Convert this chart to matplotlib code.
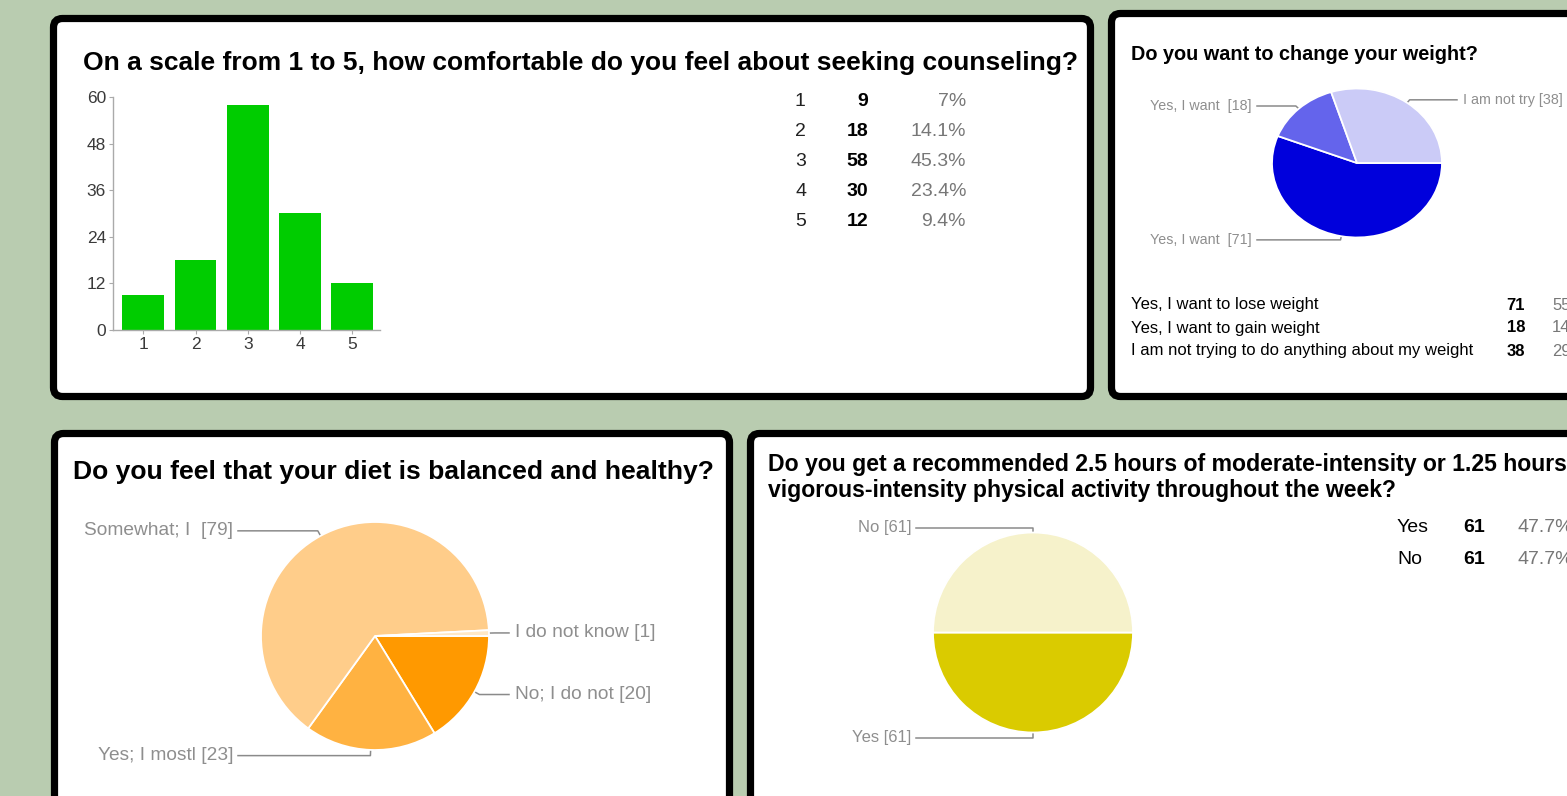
import numpy as np
import matplotlib.pyplot as plt
from matplotlib.patches import FancyBboxPatch

plt.rcParams['font.family'] = ['Liberation Sans', 'DejaVu Sans']

W, H = 1567, 796
N_RESP = 128  # people who answered the survey

# Q1 - comfort with counseling (1..5)
scale_levels = [1, 2, 3, 4, 5]
scale_counts = [9, 18, 58, 30, 12]

# Q2 - weight
weight_labels = ["Yes, I want to lose weight", "Yes, I want to gain weight",
                 "I am not trying to do anything about my weight"]
weight_stems = ["Yes, I want ", "Yes, I want ", "I am not try"]
weight_counts = [71, 18, 38]
weight_colors = ["#0000dc", "#6464ec", "#cbcbf7"]

# Q3 - diet (clockwise order of the pie)
diet_stems = ["No; I do not", "Yes; I mostl", "Somewhat; I ", "I do not know"]
diet_counts = [20, 23, 79, 1]
diet_colors = ["#ff9900", "#ffb241", "#ffcd8a", "#ffe8c6"]

# Q4 - physical activity
act_labels = ["Yes", "No"]
act_counts = [61, 61]
act_colors = ["#dacb00", "#f6f2cb"]

GREY_TXT = "#8e8e8e"
LEAD = "#8a8a8a"

fig = plt.figure(figsize=(W / 100, H / 100), dpi=100, facecolor="#b9ccb0")
bg = fig.add_axes([0, 0, 1, 1])
bg.set_xlim(0, W)
bg.set_ylim(H, 0)
bg.axis("off")
rend = fig.canvas.get_renderer()


def pct(c):
    s = f"{100 * c / N_RESP:.1f}"
    if s.endswith(".0"):
        s = s[:-2]
    return s + "%"


def panel(x0, y0, x1, y1):
    bg.add_patch(FancyBboxPatch((x0, y0), x1 - x0, y1 - y0,
                                boxstyle="round,pad=0,rounding_size=9",
                                fc="white", ec="black", lw=5.2, clip_on=False))


def px_axes(x0, y0, x1, y1):
    return fig.add_axes([x0 / W, 1 - y1 / H, (x1 - x0) / W, (y1 - y0) / H])


def fit(t, width):
    w = t.get_window_extent(rend).width
    t.set_fontsize(t.get_fontsize() * width / w)
    return t


def pie_with_leaders(vals, colors, names, cx, cy, rx, ry, left_x, right_x, fs):
    ax = px_axes(cx - rx, cy - ry, cx + rx, cy + ry)
    ax.pie(vals, colors=colors, startangle=0, counterclock=False,
           wedgeprops=dict(edgecolor="white", linewidth=1.3))
    ax.set_aspect("auto")
    ax.set_xlim(-1, 1)
    ax.set_ylim(-1, 1)
    tot = float(sum(vals))
    start = 0.0
    for v, name in zip(vals, names):
        mid = np.deg2rad(start - v / tot * 180)
        start -= v / tot * 360
        c, s = np.cos(mid), np.sin(mid)
        axp, ayp = cx + rx * c, cy - ry * s
        ex, ey = cx + 1.05 * rx * c, cy - 1.05 * ry * s
        if c < 0.01:
            bg.plot([axp, ex, left_x + 5], [ayp, ey, ey], color=LEAD, lw=1.1)
            bg.text(left_x, ey, name, ha="right", va="center", color=GREY_TXT, fontsize=fs)
        else:
            bg.plot([axp, ex, right_x - 6], [ayp, ey, ey], color=LEAD, lw=1.1)
            bg.text(right_x, ey, name, ha="left", va="center", color=GREY_TXT, fontsize=fs)


# panels
panel(53.5, 18.5, 1090.5, 396.5)
panel(1111.5, 13.5, 1640, 396.5)
panel(54.5, 433.5, 729.5, 840)
panel(750.5, 433.5, 1640, 840)

# ---- panel 1: bar chart
t = bg.text(83, 63, "On a scale from 1 to 5, how comfortable do you feel about seeking counseling?",
            ha="left", va="center", fontsize=16, fontweight="bold")
fit(t, 992)

ax1 = px_axes(113, 97, 380, 330)
ax1.bar(scale_levels, scale_counts, width=0.8, color="#00cc00")
ax1.set_xlim(0.42, 5.53)
ax1.set_ylim(0, 60)
ax1.set_yticks(range(0, 61, 12))
ax1.set_xticks(scale_levels)
ax1.patch.set_alpha(0)
for sp in ["top", "right"]:
    ax1.spines[sp].set_visible(False)
for sp in ["left", "bottom"]:
    ax1.spines[sp].set_color("#aaaaaa")
    ax1.spines[sp].set_linewidth(1.0)
ax1.tick_params(length=3, width=0.8, color="#aaaaaa", labelcolor="#3a3a3a",
                labelsize=12.5, pad=2)

for i, (lvl, c) in enumerate(zip(scale_levels, scale_counts)):
    y = 102 + 30 * i
    bg.text(795, y, str(lvl), ha="left", va="center", fontsize=14, color="#222222")
    bg.text(868, y, str(c), ha="right", va="center", fontsize=14, fontweight="bold")
    bg.text(966, y, pct(c), ha="right", va="center", fontsize=14, color="#777777")

# ---- panel 2: weight pie
t = bg.text(1131, 55, "Do you want to change your weight?", ha="left", va="center",
            fontsize=12, fontweight="bold")
fit(t, 346)
pie_with_leaders(weight_counts, weight_colors,
                 [f"{s} [{c}]" for s, c in zip(weight_stems, weight_counts)],
                 1357, 163, 85, 74.5, 1252, 1463, 10.3)
for i, (lab, c) in enumerate(zip(weight_labels, weight_counts)):
    y = 305 + 23 * i
    bg.text(1131, y, lab, ha="left", va="center", fontsize=12)
    bg.text(1525, y, str(c), ha="right", va="center", fontsize=12, fontweight="bold")
    bg.text(1552, y, pct(c), ha="left", va="center", fontsize=12, color="#777777")

# ---- panel 3: diet pie
t = bg.text(73, 472, "Do you feel that your diet is balanced and healthy?", ha="left",
            va="center", fontsize=16, fontweight="bold")
fit(t, 639)
pie_with_leaders(diet_counts, diet_colors,
                 [f"{s} [{c}]" for s, c in zip(diet_stems, diet_counts)],
                 375, 636, 114, 114, 233, 515, 13.8)

# ---- panel 4: activity pie
t2 = bg.text(768, 490, "vigorous-intensity physical activity throughout the week?",
             ha="left", va="center", fontsize=15, fontweight="bold")
fit(t2, 635)
bg.text(768, 464, "Do you get a recommended 2.5 hours of moderate-intensity or 1.25 hours of",
        ha="left", va="center", fontsize=t2.get_fontsize(), fontweight="bold")
pie_with_leaders(act_counts, act_colors,
                 [f"{s} [{c}]" for s, c in zip(act_labels, act_counts)],
                 1033, 632.5, 100, 100, 911, 1160, 12)
for i, (lab, c) in enumerate(zip(act_labels, act_counts)):
    y = 528 + 31 * i
    bg.text(1397, y, lab, ha="left", va="center", fontsize=14)
    bg.text(1485, y, str(c), ha="right", va="center", fontsize=14, fontweight="bold")
    bg.text(1517, y, pct(c), ha="left", va="center", fontsize=14, color="#777777")

fig.savefig("out.png", dpi=100, facecolor=fig.get_facecolor())
